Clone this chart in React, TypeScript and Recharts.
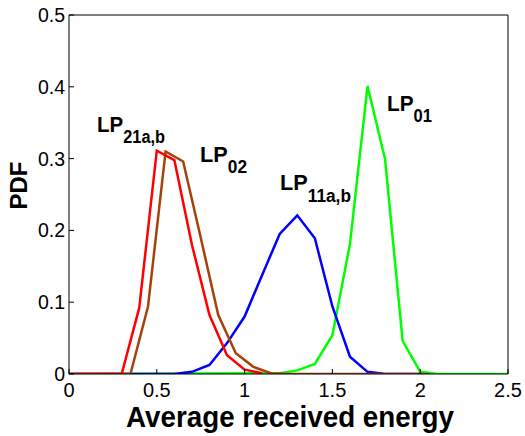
import React from 'react';
import { LineChart, Line, XAxis, YAxis } from 'recharts';

// LP01 (green)
const lp01X = [0, 1.2, 1.3, 1.4, 1.5, 1.6, 1.7, 1.8, 1.9, 2.0, 2.1, 2.5];
const lp01Y = [0, 0.001, 0.005, 0.014, 0.054, 0.181, 0.401, 0.299, 0.046, 0.003, 0, 0];
// LP11a,b (blue)
const lp11X = [0, 0.6, 0.7, 0.8, 0.9, 1.0, 1.1, 1.2, 1.3, 1.4, 1.5, 1.6, 1.7, 1.8, 2.0];
const lp11Y = [0, 0, 0.003, 0.0125, 0.043, 0.08, 0.138, 0.195, 0.221, 0.189, 0.094, 0.024, 0.003, 0, 0];
// LP02 (brown)
const lp02X = [0, 0.35, 0.45, 0.55, 0.65, 0.75, 0.85, 0.95, 1.05, 1.15, 1.25, 2.05];
const lp02Y = [0, 0, 0.094, 0.31, 0.296, 0.19, 0.082, 0.029, 0.01, 0.001, 0, 0];
// LP21a,b (red)
const lp21X = [0, 0.3, 0.4, 0.5, 0.6, 0.7, 0.8, 0.9, 1.0, 1.1];
const lp21Y = [0, 0, 0.092, 0.311, 0.298, 0.18, 0.082, 0.026, 0.006, 0.001];

const xTicks = [0, 0.5, 1, 1.5, 2, 2.5];
const yTicks = [0, 0.1, 0.2, 0.3, 0.4, 0.5];

const zip = (xs: number[], ys: number[]) => xs.map((x, i) => ({ x, y: ys[i] }));

const FONT = '"Liberation Sans", Arial, Helvetica, sans-serif';
const tickStyle = { fill: '#000', fontSize: 20, fontFamily: FONT };
const yTickStyle = { fill: '#000', fontSize: 19.5, fontFamily: FONT };

export default function App() {
  return (
    <div style={{ position: 'absolute', left: 0, top: 0, width: 525, height: 436, background: '#fff' }}>
      <LineChart width={525} height={436} margin={{ top: 0, right: 0, bottom: 0, left: 0 }}>
        <XAxis
          xAxisId={0}
          type="number"
          dataKey="x"
          domain={[0, 2.5]}
          ticks={xTicks}
          orientation="bottom"
          height={62}
          tickSize={-5}
          tickMargin={14}
          stroke="#000"
          tick={tickStyle}
          tickFormatter={(v: number) => String(v)}
          allowDataOverflow
        />
        <XAxis
          xAxisId="top"
          type="number"
          dataKey="x"
          domain={[0, 2.5]}
          ticks={xTicks}
          orientation="top"
          height={15}
          tickSize={-5}
          stroke="#000"
          tick={false}
          allowDataOverflow
        />
        <YAxis
          yAxisId={0}
          type="number"
          domain={[0, 0.5]}
          ticks={yTicks}
          width={69}
          tickSize={-5}
          tickMargin={9}
          stroke="#000"
          tick={yTickStyle}
          tickFormatter={(v: number) => String(v)}
          allowDataOverflow
        />
        <YAxis
          yAxisId="right"
          type="number"
          domain={[0, 0.5]}
          ticks={yTicks}
          orientation="right"
          width={17}
          tickSize={-5}
          stroke="#000"
          tick={false}
          allowDataOverflow
        />
        <Line data={zip(lp01X, lp01Y)} dataKey="y" type="linear" stroke="#00ff00" strokeWidth={2.5} dot={false} isAnimationActive={false} />
        <Line data={zip(lp11X, lp11Y)} dataKey="y" type="linear" stroke="#0000ff" strokeWidth={2.5} dot={false} isAnimationActive={false} />
        <Line data={zip(lp02X, lp02Y)} dataKey="y" type="linear" stroke="#a5420a" strokeWidth={2.5} dot={false} isAnimationActive={false} />
        <Line data={zip(lp21X, lp21Y)} dataKey="y" type="linear" stroke="#ff0000" strokeWidth={2.5} dot={false} isAnimationActive={false} />
      </LineChart>
      <svg width={525} height={436} style={{ position: 'absolute', left: 0, top: 0, pointerEvents: 'none' }}>
        <g fontFamily={FONT} fontWeight="bold" fill="#000">
          <text x={290} y={427} textAnchor="middle" fontSize={29} textLength={328} lengthAdjust="spacingAndGlyphs">Average received energy</text>
          <text x={27} y={185.5} textAnchor="middle" fontSize={24} transform="rotate(-90 27 185.5)">PDF</text>
          <text x={97} y={131.7} fontSize={22} textLength={68} lengthAdjust="spacingAndGlyphs">LP<tspan dy={11.3} fontSize={17.5}>21a,b</tspan></text>
          <text x={200} y={161.7} fontSize={22} textLength={47} lengthAdjust="spacingAndGlyphs">LP<tspan dy={11} fontSize={17.5}>02</tspan></text>
          <text x={280} y={190} fontSize={22} textLength={71} lengthAdjust="spacingAndGlyphs">LP<tspan dy={11.7} fontSize={17.5}>11a,b</tspan></text>
          <text x={387} y={110.5} fontSize={22} textLength={45} lengthAdjust="spacingAndGlyphs">LP<tspan dy={11} fontSize={17.5}>01</tspan></text>
        </g>
      </svg>
    </div>
  );
}
